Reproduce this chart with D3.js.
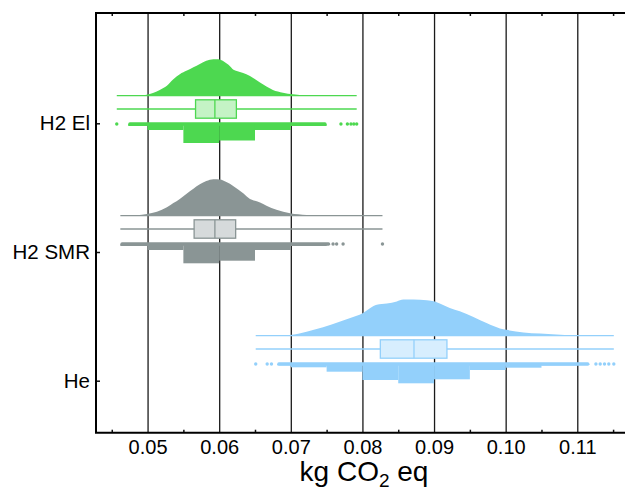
<!DOCTYPE html>
<html>
<head>
<meta charset="utf-8">
<script src="https://cdn.jsdelivr.net/npm/d3@7"></script>
<style>
  html, body { margin: 0; padding: 0; background: #fff; }
  svg { display: block; }
</style>
</head>
<body>
<div id="chart"></div>
<script>
// categories, top to bottom
const categories = ['H2 El', 'H2 SMR', 'He'];
const categoryTicks = [3, 2, 1];

const xTicks = [0.05, 0.06, 0.07, 0.08, 0.09, 0.1, 0.11];
const xMinorTicks = [0.045, 0.055, 0.065, 0.075, 0.085, 0.095, 0.105, 0.115];

// half-violin density, [value, relative density]
const densityEl = [
  [0.0457, 0], [0.049, 0.005], [0.05, 0.03], [0.0517, 0.156], [0.0527, 0.27], [0.0536, 0.45],
  [0.0545, 0.59], [0.0555, 0.69], [0.0564, 0.78], [0.0573, 0.87], [0.0582, 0.96], [0.0592, 1.0],
  [0.0599, 1.0], [0.0606, 0.945], [0.0613, 0.845], [0.062, 0.71], [0.0629, 0.65], [0.0638, 0.59],
  [0.0648, 0.48], [0.0657, 0.36], [0.0666, 0.25], [0.0675, 0.156], [0.0689, 0.083], [0.0703, 0.037],
  [0.0722, 0.01], [0.075, 0.002], [0.0792, 0],
];
const densitySmr = [
  [0.0462, 0], [0.0485, 0.01], [0.0499, 0.047], [0.0513, 0.11], [0.0527, 0.23], [0.0536, 0.345],
  [0.0545, 0.46], [0.0555, 0.61], [0.0564, 0.74], [0.0573, 0.86], [0.0582, 0.95], [0.0592, 1.0],
  [0.0601, 0.99], [0.061, 0.92], [0.062, 0.81], [0.0634, 0.61], [0.0643, 0.46], [0.065, 0.41],
  [0.0657, 0.36], [0.0666, 0.27], [0.068, 0.16], [0.0699, 0.065], [0.0722, 0.02], [0.075, 0.005],
  [0.0828, 0],
];
const densityHe = [
  [0.0651, 0], [0.068, 0.005], [0.0699, 0.02], [0.0722, 0.11], [0.0745, 0.23], [0.0769, 0.39],
  [0.0787, 0.51], [0.0799, 0.6], [0.0811, 0.76], [0.082, 0.85], [0.0834, 0.88], [0.0848, 0.94],
  [0.0857, 0.99], [0.0871, 0.99], [0.089, 0.97], [0.0901, 0.94], [0.0908, 0.88], [0.0922, 0.76],
  [0.0936, 0.67], [0.0955, 0.51], [0.0974, 0.34], [0.0992, 0.2], [0.1001, 0.16], [0.1025, 0.09],
  [0.1048, 0.06], [0.1071, 0.03], [0.1094, 0.01], [0.1151, 0],
];

// box: [min, q1, median, q3, max]
const boxEl = [0.0457, 0.0567, 0.0594, 0.0624, 0.0792];
const boxSmr = [0.0462, 0.0565, 0.0594, 0.0623, 0.0828];
const boxHe = [0.0651, 0.0825, 0.0872, 0.0918, 0.1151];

// data points: dense run and lone points
const denseEl = [0.0473, 0.075];
const denseSmr = [0.0462, 0.0755];
const denseHe = [0.0681, 0.1117];
const loneEl = [0.0457, 0.077, 0.0779, 0.0784, 0.0788, 0.0792];
const loneSmr = [0.0759, 0.0764, 0.0773, 0.0828];
const loneHe = [0.0651, 0.0667, 0.0673, 0.1126, 0.1132, 0.1138, 0.1144, 0.1151];

// stacked points per bin (bin width 0.005)
const binWidth = 0.005;
const binStartEl = 0.045;
const binStartSmr = 0.045;
const binStartHe = 0.065;
const binsEl = [40, 120, 380, 330, 120, 40, 20];
const binsSmr = [40, 120, 386, 334, 120, 40, 20];
const binsHe = [26, 66, 154, 320, 386, 306, 120, 74, 30, 20];

const groups = [
  { name: 'H2 El', density: densityEl, box: boxEl, dense: denseEl, lone: loneEl, binStart: binStartEl, bins: binsEl, color: '#4dd850', light: '#c4f3c5' },
  { name: 'H2 SMR', density: densitySmr, box: boxSmr, dense: denseSmr, lone: loneSmr, binStart: binStartSmr, bins: binsSmr, color: '#8a9595', light: '#d6dadb' },
  { name: 'He', density: densityHe, box: boxHe, dense: denseHe, lone: loneHe, binStart: binStartHe, bins: binsHe, color: '#93d0fb', light: '#d7eefe' },
];

const width = 625;
const height = 492;
const plotLeft = 96;
const plotTop = 13;
const plotBottom = 432.7;
const font = 'Liberation Sans, Arial, sans-serif';

const x = d3.scaleLinear().domain([0.0428, 0.1175]).range([plotLeft, 631]);
const y = d3.scaleLinear().domain([0.596, 3.857]).range([plotBottom, plotTop]);
const rowY = d3.scalePoint().domain(categories).range([124, 364]);
const densityH = d3.scaleLinear().domain([0, 1]).range([0, 36.5]);
const binH = d3.scaleLinear().domain([0, 400]).range([0, 20]);

const densityOffset = 28.3;
const boxOffset = 15;
const boxHalf = 9.2;
const dotR = 1.7;

const svg = d3.select('#chart').append('svg').attr('width', width).attr('height', height);
svg.append('rect').attr('width', width).attr('height', height).attr('fill', '#fff');

// bottom axis: labels + gridlines
const xAxis = svg
  .append('g')
  .attr('transform', `translate(0,${plotBottom})`)
  .call(
    d3.axisBottom(x).tickValues(xTicks).tickFormat(d3.format('.2f')).tickSizeInner(-(plotBottom - plotTop)).tickSizeOuter(0).tickPadding(7),
  );
xAxis.select('.domain').remove();
xAxis.selectAll('line').attr('stroke', '#1a1a1a').attr('stroke-width', 1.3);
xAxis.selectAll('text').attr('font-family', font).attr('font-size', 20).attr('fill', '#000');

svg
  .append('g')
  .attr('transform', `translate(0,${plotBottom})`)
  .call(d3.axisBottom(x).tickValues(xMinorTicks).tickFormat('').tickSizeInner(-3).tickSizeOuter(0))
  .call((g) => g.select('.domain').remove())
  .selectAll('line')
  .attr('stroke', '#111')
  .attr('stroke-width', 1.5);

svg
  .append('g')
  .attr('transform', `translate(0,${plotTop})`)
  .call(d3.axisTop(x).tickValues(xMinorTicks).tickFormat('').tickSizeInner(-3).tickSizeOuter(0))
  .call((g) => g.select('.domain').remove())
  .selectAll('line')
  .attr('stroke', '#111')
  .attr('stroke-width', 1.5);

const yAxis = svg
  .append('g')
  .attr('transform', `translate(${plotLeft},0)`)
  .call(
    d3.axisLeft(y).tickValues(categoryTicks).tickFormat((d, i) => categories[i]).tickSizeInner(-4).tickSizeOuter(0).tickPadding(6),
  );
yAxis.select('.domain').remove();
yAxis.selectAll('line').attr('stroke', '#111').attr('stroke-width', 1.5);
yAxis.selectAll('text').attr('font-family', font).attr('font-size', 20.5).attr('fill', '#000');

const area = d3.area().curve(d3.curveMonotoneX);
const line = d3.line();

groups.forEach((g) => {
  const row = rowY(g.name);
  const base = row - densityOffset;
  const mid = row - boxOffset;
  const [mn, q1, med, q3, mx] = g.box;
  const layer = svg.append('g');

  // density
  layer
    .append('path')
    .datum(g.density)
    .attr(
      'd',
      area.x((d) => x(d[0])).y0(base).y1((d) => base - densityH(d[1])),
    )
    .attr('fill', g.color);

  layer
    .append('path')
    .attr('d', line([[x(mn), base], [x(mx), base]]))
    .attr('stroke', g.color)
    .attr('stroke-width', 1.3);

  // box
  layer
    .append('path')
    .attr('d', line([[x(mn), mid], [x(mx), mid]]))
    .attr('stroke', g.color)
    .attr('stroke-width', 1.3);

  layer
    .append('rect')
    .attr('x', x(q1))
    .attr('y', mid - boxHalf)
    .attr('width', x(q3) - x(q1))
    .attr('height', boxHalf * 2)
    .attr('fill', g.light)
    .attr('stroke', g.color)
    .attr('stroke-width', 1.3);

  layer
    .append('path')
    .attr('d', line([[x(med), mid - boxHalf], [x(med), mid + boxHalf]]))
    .attr('stroke', g.color)
    .attr('stroke-width', 1.3);

  // points
  layer
    .append('rect')
    .attr('x', x(g.dense[0]))
    .attr('y', row - dotR)
    .attr('width', x(g.dense[1]) - x(g.dense[0]))
    .attr('height', dotR * 2)
    .attr('rx', dotR)
    .attr('fill', g.color);

  layer
    .selectAll('circle')
    .data(g.lone)
    .enter()
    .append('circle')
    .attr('cx', (d) => x(d))
    .attr('cy', row)
    .attr('r', dotR)
    .attr('fill', g.color);

  g.bins.forEach((count, i) => {
    const lo = Math.max(g.binStart + i * binWidth, g.dense[0]);
    const hi = Math.min(g.binStart + (i + 1) * binWidth, g.dense[1]);
    if (hi <= lo) return;
    layer
      .append('rect')
      .attr('x', x(lo))
      .attr('y', row)
      .attr('width', x(hi) - x(lo))
      .attr('height', binH(count))
      .attr('fill', g.color);
  });
});

// frame
svg
  .append('path')
  .attr('d', `M${x.range()[1]},${plotTop}H${plotLeft}V${plotBottom}H${x.range()[1]}`)
  .attr('fill', 'none')
  .attr('stroke', '#000')
  .attr('stroke-width', 2);

const title = svg
  .append('text')
  .attr('x', 364)
  .attr('y', 481)
  .attr('text-anchor', 'middle')
  .attr('font-family', font)
  .attr('font-size', 28)
  .attr('fill', '#000');
title.append('tspan').text('kg CO');
title.append('tspan').attr('font-size', 19).attr('dy', 6).text('2');
title.append('tspan').attr('dy', -6).text(' eq');
</script>
</body>
</html>
